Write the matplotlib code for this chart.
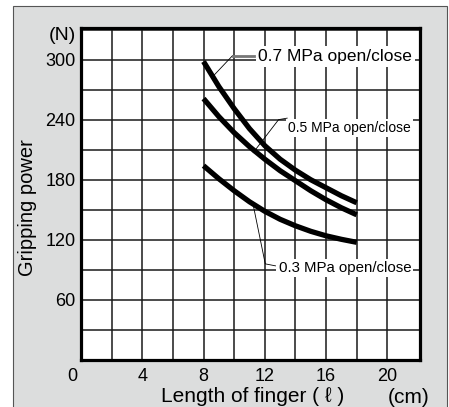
import matplotlib
matplotlib.use("Agg")
import matplotlib.pyplot as plt
from matplotlib.patches import Rectangle
from matplotlib.transforms import ScaledTranslation

plt.rcParams['font.family'] = ['Liberation Sans', 'DejaVu Sans']

# finger length (cm) and gripping power (N)
finger_len = [8, 9, 10, 11, 12, 13, 14, 15, 16, 17, 18]
force_07 = [298, 273, 251, 231, 214, 200.5, 189.5, 180, 172, 164, 157]
force_05 = [261, 243, 227, 213, 200.5, 189, 179, 169, 160, 152, 145]
force_03 = [194, 181, 169, 158, 148.5, 140.5, 134, 128.5, 124, 120.5, 117.5]

series_labels = ["0.7 MPa open/close", "0.5 MPa open/close", "0.3 MPa open/close"]
x_ticks = [0, 4, 8, 12, 16, 20]
y_ticks = [60, 120, 180, 240, 300]

fig = plt.figure(figsize=(4.49, 4.07), dpi=100)
fig.patch.set_facecolor('white')

# grey panel behind everything
panel = Rectangle((13 / 449, -0.05), 434 / 449, 1.05 - 6 / 407,
                  transform=fig.transFigure, facecolor='#dcdddd',
                  edgecolor='#555555', linewidth=0.8, zorder=-5)
fig.patches.append(panel)

ax = fig.add_axes([81 / 449, 47 / 407, 338.5 / 449, 332.5 / 407])
ax.set_facecolor('white')

for ys in (force_07, force_05, force_03):
    ax.plot(finger_len, ys, color='black', lw=3.8, solid_capstyle='butt',
            solid_joinstyle='round', zorder=3)

ax.set_xlim(0, 22.1)
ax.set_ylim(0, 332)

# grid
for gx in range(2, 22, 2):
    ax.axvline(gx, color='#1a1a1a', lw=1.1, zorder=1)
for gy in range(30, 331, 30):
    ax.axhline(gy, color='#1a1a1a', lw=1.1, zorder=1)

for sp in ax.spines.values():
    sp.set_linewidth(2.3)
    sp.set_color('black')
    sp.set_zorder(5)

ax.set_xticks(x_ticks)
ax.set_xticklabels([str(t) for t in x_ticks], fontsize=13)
ax.set_yticks(y_ticks)
ax.set_yticklabels([str(t) for t in y_ticks], fontsize=13)
ax.tick_params(axis='both', length=0)
ax.tick_params(axis='x', pad=6)
ax.tick_params(axis='y', pad=4)
lbl0 = ax.get_xticklabels()[0]
lbl0.set_transform(lbl0.get_transform() + ScaledTranslation(-9 / 100, 0, fig.dpi_scale_trans))

ax.set_xlabel("Length of finger ( \u2113 )", fontsize=15)
ax.xaxis.set_label_coords(0.508, -0.11)
ax.xaxis.label.set_verticalalignment('center')
ax.set_ylabel("Gripping power", fontsize=14.5)
ax.yaxis.set_label_coords(-0.158, 0.457)
ax.yaxis.label.set_verticalalignment('center')

ax.text(-0.056, 0.977, "(N)", transform=ax.transAxes, fontsize=14,
        ha='center', va='center', clip_on=False)
ax.text(0.969, -0.113, "(cm)", transform=ax.transAxes, fontsize=15,
        ha='center', va='center', clip_on=False)

# leader lines and labels
box = dict(boxstyle='square,pad=0.15', fc='white', ec='none')

ax.plot([8.6, 9.9], [283, 304], color='black', lw=0.6, zorder=4)
ax.plot([9.9, 11.3], [304, 304], color='#777777', lw=2.0, zorder=4)
ax.text(11.57, 303, series_labels[0], fontsize=12.5, ha='left', va='center',
        bbox=box, zorder=4)

ax.plot([11.24, 12.9, 13.46], [207, 240, 241.5], color='black', lw=0.6, zorder=4)
ax.text(13.53, 231.7, series_labels[1], fontsize=10, ha='left', va='center',
        bbox=box, zorder=4)

ax.plot([11.24, 12.03, 12.7], [155, 96, 94], color='black', lw=0.6, zorder=4)
ax.text(12.9, 92, series_labels[2], fontsize=10.8, ha='left', va='center',
        bbox=box, zorder=4)

fig.savefig('out.png', dpi=100)
